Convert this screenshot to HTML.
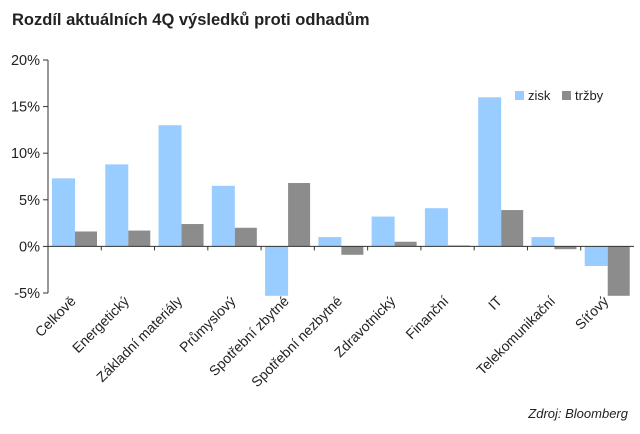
<!DOCTYPE html>
<html><head><meta charset="utf-8"><style>
body{margin:0;background:#fff;width:640px;height:429px;overflow:hidden;font-family:"Liberation Sans",sans-serif}
</style></head><body>
<svg width="640" height="429" xmlns="http://www.w3.org/2000/svg" font-family="Liberation Sans, sans-serif">
<text x="12" y="25" font-size="16.5" font-weight="bold" fill="#222">Rozdíl aktuálních 4Q výsledků proti odhadům</text>
<g id="plot"></g>
<rect x="515" y="91" width="9" height="9" fill="#99ccff"/>
<text x="528" y="100" font-size="13" fill="#222">zisk</text>
<rect x="562" y="91" width="9" height="9" fill="#8c8c8c"/>
<text x="575" y="100" font-size="13" fill="#222">tržby</text>
<text x="628" y="418" font-size="13" font-style="italic" fill="#222" text-anchor="end">Zdroj: Bloomberg</text>
</svg>
<script>
const categories=["Celkově","Energetický","Základní materiály","Průmyslový","Spotřební zbytné","Spotřební nezbytné","Zdravotnický","Finanční","IT","Telekomunikační","Síťový"];
const zisk=[7.3,8.8,13.0,6.5,-5.3,1.0,3.2,4.1,16.0,1.0,-2.1];
const trzby=[1.6,1.7,2.4,2.0,6.8,-0.9,0.5,0.1,3.9,-0.3,-5.3];
const yTicks=[-5,0,5,10,15,20];
const NS="http://www.w3.org/2000/svg";
const g=document.getElementById("plot");
const x0=48,x1=634,yTop=60,yBot=293,vMin=-5,vMax=20;
const y=v=>yBot-(v-vMin)/(vMax-vMin)*(yBot-yTop);
const cw=(x1-x0)/categories.length;
const xc=i=>x0+cw*i;
function mk(t,a){const e=document.createElementNS(NS,t);for(const k in a)e.setAttribute(k,a[k]);g.appendChild(e);return e;}
categories.forEach((c,i)=>{
 const bw=23,gx=xc(i)+4;
 let v=zisk[i];
 let r=mk("rect",{x:gx,y:Math.min(y(v),y(0)),width:bw,height:Math.abs(y(v)-y(0)),fill:"#99ccff"});
 
 
 v=trzby[i];
 r=mk("rect",{x:gx+bw,y:Math.min(y(v),y(0)),width:bw-1,height:Math.abs(y(v)-y(0)),fill:"#8c8c8c"});
 
 
 const cx=xc(i)+cw/2+2;
 const t=mk("text",{x:cx,y:302,"font-size":14,fill:"#222","text-anchor":"end",transform:`rotate(-45 ${cx} 302)`});
 t.textContent=c;
 
 
 if(i>0){const tk=mk("line",{x1:xc(i),x2:xc(i),y1:y(0),y2:y(0)+4,stroke:"#333"});
 
 }
});
yTicks.forEach(v=>{
 const l=mk("line",{x1:x0-5,x2:x0,y1:y(v),y2:y(v),stroke:"#333"});
 
 
 const t=mk("text",{x:x0-8,y:y(v)+5,"font-size":14.5,fill:"#222","text-anchor":"end"});
 t.textContent=v+"%";
 
 
});
const ya=mk("line",{x1:x0,x2:x0,y1:yTop,y2:yBot,stroke:"#333"});


const xa=mk("line",{x1:x0,x2:x1,y1:y(0),y2:y(0),stroke:"#333"});


</script>
</body></html>
